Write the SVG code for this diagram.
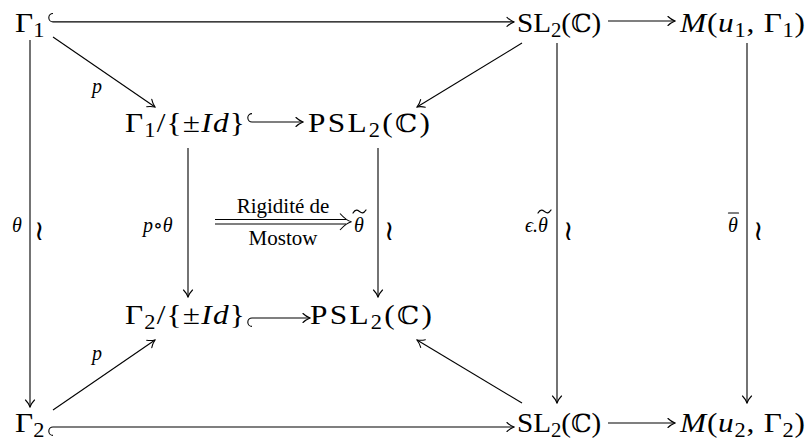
<svg xmlns="http://www.w3.org/2000/svg" width="810" height="447" viewBox="0 0 810 447">
<defs>
<marker id="ar" viewBox="-8 -6 9 12" refX="0" refY="0" markerWidth="9" markerHeight="12" markerUnits="userSpaceOnUse" orient="auto">
<path d="M-7,-4.5 C-4.5,-2 -1.5,-0.6 0,0 C-1.5,0.6 -4.5,2 -7,4.5" fill="none" stroke="#000" stroke-width="1.1" stroke-linecap="round"/>
</marker>
</defs>
<style>
text{font-family:"Liberation Serif","DejaVu Serif",serif;fill:#000}
.m{font-size:28px}
.sub{font-size:20px}
.it{font-style:italic}
.bb{font-family:"DejaVu Serif",serif;font-size:25px}
.lb{font-size:20px;font-style:italic}
.tx{font-size:21px}
.wr{font-family:"DejaVu Sans",sans-serif;font-size:28px;font-style:normal}
.ln{stroke:#000;stroke-width:1.1;fill:none}
.ac{stroke:#000;stroke-width:1.2;fill:none;stroke-linecap:round}
.ar{marker-end:url(#ar)}
</style>
<rect width="810" height="447" fill="#fff"/>
<g id="n-gamma1"><text class="m" transform="matrix(1.12 0 0 1 15 32)">Γ<tspan class="sub" dy="5">1</tspan></text></g>
<g id="n-sl2-top"><text class="m" transform="matrix(1.04 0 0 1 517 32)" textLength="81">SL<tspan class="sub" dy="5">2</tspan><tspan dy="-5">(</tspan><tspan class="bb">ℂ</tspan>)</text></g>
<g id="n-m-top"><text class="m" transform="matrix(1.12 0 0 1 680 32)" textLength="111.6"><tspan class="it">M</tspan>(<tspan class="it">u</tspan><tspan class="sub" dy="5">1</tspan><tspan dy="-5">, Γ</tspan><tspan class="sub" dy="5">1</tspan><tspan dy="-5">)</tspan></text></g>
<g id="n-quot1"><text class="m" transform="matrix(1.12 0 0 1 125 132)" textLength="107">Γ<tspan class="sub" dy="5">1</tspan><tspan dy="-5">/{±</tspan><tspan class="it">Id</tspan>}</text></g>
<g id="n-psl-top"><text class="m" transform="matrix(1.12 0 0 1 308 132)" textLength="109">PSL<tspan class="sub" dy="5">2</tspan><tspan dy="-5">(</tspan><tspan class="bb">ℂ</tspan>)</text></g>
<g id="n-quot2"><text class="m" transform="matrix(1.12 0 0 1 125 324)" textLength="107">Γ<tspan class="sub" dy="5">2</tspan><tspan dy="-5">/{±</tspan><tspan class="it">Id</tspan>}</text></g>
<g id="n-psl-bot"><text class="m" transform="matrix(1.12 0 0 1 310 324)" textLength="109">PSL<tspan class="sub" dy="5">2</tspan><tspan dy="-5">(</tspan><tspan class="bb">ℂ</tspan>)</text></g>
<g id="n-gamma2"><text class="m" transform="matrix(1.12 0 0 1 15 432)">Γ<tspan class="sub" dy="5">2</tspan></text></g>
<g id="n-sl2-bot"><text class="m" transform="matrix(1.04 0 0 1 517 432)" textLength="81">SL<tspan class="sub" dy="5">2</tspan><tspan dy="-5">(</tspan><tspan class="bb">ℂ</tspan>)</text></g>
<g id="n-m-bot"><text class="m" transform="matrix(1.12 0 0 1 680 432)" textLength="111.6"><tspan class="it">M</tspan>(<tspan class="it">u</tspan><tspan class="sub" dy="5">2</tspan><tspan dy="-5">, Γ</tspan><tspan class="sub" dy="5">2</tspan><tspan dy="-5">)</tspan></text></g>
<g id="connectors">
<path class="ln ar" d="M53,13.5 A4.2,4.2 0 0 0 53,21.9 L514,21.9"/>
<path class="ln ar" d="M608,21 L675,21"/>
<path class="ln ar" d="M53,37 L155,107"/>
<path class="ln ar" d="M522,43 L417,107"/>
<path class="ln ar" d="M252,113.6 A4.2,4.2 0 0 0 252,122 L303,122"/>
<path class="ln ar" d="M30,40 L30,407"/>
<path class="ln ar" d="M188,148 L188,297"/>
<path class="ln ar" d="M378,148 L378,297"/>
<path class="ln ar" d="M557,43 L557,403"/>
<path class="ln ar" d="M747,43 L747,403"/>
<path class="ln ar" d="M252,326.4 A4.2,4.2 0 0 1 252,318 L310,318"/>
<path class="ln ar" d="M53,435.4 A4.2,4.2 0 0 1 53,427 L514,427"/>
<path class="ln ar" d="M608,423 L675,423"/>
<path class="ln ar" d="M53,410 L155,340"/>
<path class="ln ar" d="M522,403 L417,340"/>
<path class="ln" d="M215,219.5 L346,219.5 M215,224 L346,224"/>
<path class="ln" d="M340,213.5 C344,218 347,220.8 351.5,221.75 C347,222.7 344,225.5 340,230"/>
<text class="lb" x="92" y="93">p</text>
<text class="lb" x="92" y="360">p</text>
<text class="lb" x="12" y="232">θ</text>
<text class="wr" x="34" y="240">≀</text>
<text class="lb" x="143" y="232">p<tspan style="font-style:normal">∘</tspan>θ</text>
<text class="lb" x="354" y="232">θ</text>
<path class="ac" d="M353,213 C355.5,209 357.5,210 359.5,211.5 C361.5,213 363.5,214 366,210"/>
<text class="wr" x="384" y="240">≀</text>
<text class="lb" x="525" y="232">ϵ.θ</text>
<path class="ac" d="M538,213 C540.5,209 542.5,210 544.5,211.5 C546.5,213 548.5,214 551,210"/>
<text class="wr" x="563" y="240">≀</text>
<text class="lb" x="728" y="232">θ</text>
<path class="ac" d="M728.5,213 L738.5,213"/>
<text class="wr" x="753" y="240">≀</text>
<text class="tx" x="283" y="213" text-anchor="middle">Rigidité de</text>
<text class="tx" x="283" y="245" text-anchor="middle">Mostow</text>
</g>
</svg>
